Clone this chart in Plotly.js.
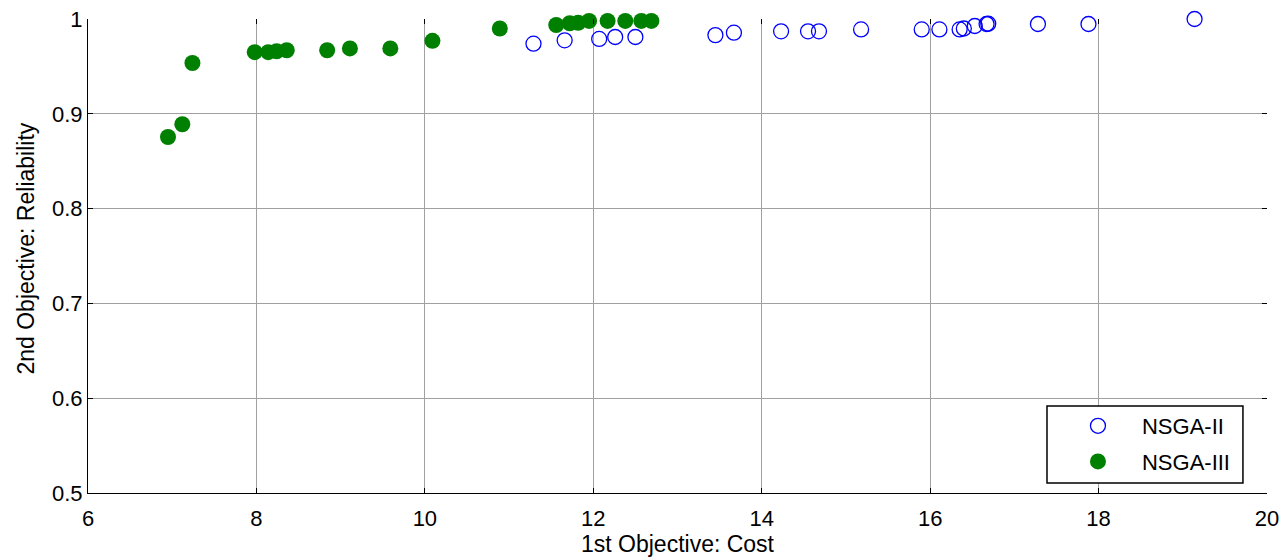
<!DOCTYPE html>
<html>
<head>
<meta charset="utf-8">
<script src="https://cdn.plot.ly/plotly-3.0.1.min.js"></script>
<style>html,body{margin:0;padding:0;background:#fff;}#chart{width:1283px;height:560px;}</style>
</head>
<body>
<div id="chart"></div>
<script>
// NSGA-II (open blue circles)
var nsga2Cost = [11.29, 11.66, 12.07, 12.26, 12.50, 13.45, 13.67, 14.23, 14.55, 14.68, 15.18, 15.90, 16.11, 16.35, 16.40, 16.53, 16.67, 16.69, 17.28, 17.88, 19.14];
var nsga2Rel  = [0.974, 0.9775, 0.979, 0.981, 0.981, 0.983, 0.9856, 0.987, 0.987, 0.987, 0.989, 0.989, 0.989, 0.989, 0.990, 0.9926, 0.9947, 0.9950, 0.9947, 0.9947, 1.0];
// NSGA-III (filled green circles)
var nsga3Cost = [6.95, 7.12, 7.24, 7.98, 8.14, 8.24, 8.36, 8.84, 9.11, 9.59, 10.09, 10.89, 11.56, 11.72, 11.82, 11.95, 12.17, 12.38, 12.57, 12.69];
var nsga3Rel  = [0.8755, 0.889, 0.9536, 0.965, 0.965, 0.966, 0.967, 0.967, 0.969, 0.969, 0.977, 0.990, 0.9937, 0.9955, 0.996, 0.998, 0.998, 0.998, 0.998, 0.998];
var xTicks = [6, 8, 10, 12, 14, 16, 18, 20];
var yTicks = [0.5, 0.6, 0.7, 0.8, 0.9, 1];
var yTickText = ['0.5', '0.6', '0.7', '0.8', '0.9', '1'];
var xTitle = '1st Objective: Cost';
var yTitle = '2nd Objective: Reliability';

var traces = [
  {x: nsga2Cost, y: nsga2Rel, name: 'NSGA-II', legendgroup: 'a', type: 'scatter', mode: 'markers', cliponaxis: false,
   marker: {symbol: 'circle-open', size: 15, color: '#0000ff', line: {width: 1.3, color: '#0000ff'}}},
  {x: nsga3Cost, y: nsga3Rel, name: 'NSGA-III', legendgroup: 'b', type: 'scatter', mode: 'markers', cliponaxis: false,
   marker: {symbol: 'circle', size: 16, color: '#008000', line: {width: 0}}},
  {x: [], y: [], xaxis: 'x2', yaxis: 'y2', showlegend: false, hoverinfo: 'skip', type: 'scatter'}
];

var fnt = {family: 'Liberation Sans, Arial, sans-serif', size: 22, color: '#000'};
var tfnt = {family: 'Liberation Sans, Arial, sans-serif', size: 23, color: '#000'};
var layout = {
  width: 1283, height: 560,
  margin: {l: 88, r: 16, t: 19, b: 67},
  paper_bgcolor: '#fff', plot_bgcolor: '#fff',
  font: fnt,
  showlegend: true,
  xaxis: {range: [6, 20], tickvals: xTicks, ticktext: xTicks.map(String), showgrid: true, gridcolor: '#a0a0a0', gridwidth: 1,
          showline: true, linecolor: '#000', linewidth: 1, ticks: 'inside', ticklen: 5, tickcolor: '#000', ticklabelstandoff: 6,
          zeroline: false, tickfont: fnt, title: {text: xTitle, font: tfnt, standoff: 5}},
  yaxis: {range: [0.5, 1], tickvals: yTicks, ticktext: yTickText, showgrid: true, gridcolor: '#a0a0a0', gridwidth: 1,
          showline: true, linecolor: '#000', linewidth: 1, ticks: 'inside', ticklen: 5, tickcolor: '#000',
          zeroline: false, tickfont: fnt},
  xaxis2: {overlaying: 'x', side: 'top', range: [6, 20], tickvals: xTicks, showticklabels: false, showgrid: false,
           showline: false, ticks: 'inside', ticklen: 5, tickcolor: '#000', zeroline: false},
  yaxis2: {overlaying: 'y', side: 'right', range: [0.5, 1], tickvals: yTicks, showticklabels: false, showgrid: false,
           showline: false, ticks: 'inside', ticklen: 5, tickcolor: '#000', zeroline: false},
  annotations: [{text: yTitle, xref: 'paper', yref: 'paper', x: -0.0534, y: 0.5158, xanchor: 'center', yanchor: 'middle',
                 textangle: -90, showarrow: false, font: tfnt}],
  shapes: [{type: 'rect', xref: 'paper', yref: 'paper', x0: 0.8134, x1: 0.9796, y0: 0.0211, y1: 0.1835,
            fillcolor: '#fff', line: {color: '#000', width: 1.5}, layer: 'above'}],
  legend: {x: 0.8193, y: 0.1857, xanchor: 'left', yanchor: 'top', bgcolor: 'rgba(0,0,0,0)', borderwidth: 0,
           font: fnt, itemwidth: 78, traceorder: 'grouped', tracegroupgap: 4}
};
Plotly.newPlot('chart', traces, layout, {displayModeBar: false, staticPlot: true});
</script>
</body>
</html>
